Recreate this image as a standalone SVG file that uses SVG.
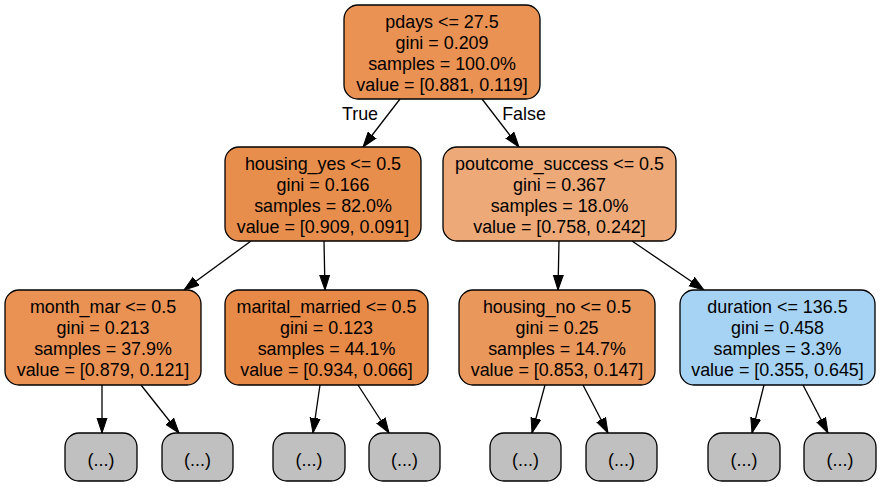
<svg xmlns="http://www.w3.org/2000/svg" width="882" height="487" viewBox="0 0 882 487">
<defs>
<marker id="arr" markerUnits="userSpaceOnUse" markerWidth="16" markerHeight="12" refX="15" refY="5" orient="auto" viewBox="0 0 16 10">
<path d="M0,0 L15,5 L0,10 Z" fill="#000" stroke="#000" stroke-width="1"/>
</marker>
<style>
.n{stroke:#000;stroke-width:1.3}
text{font-family:"Liberation Sans",Arial,Helvetica,sans-serif;font-size:17.9px;fill:#000;text-anchor:middle}
.e line{stroke:#000;stroke-width:1.3;marker-end:url(#arr)}
.leaf{fill:#c0c0c0}
</style>
</defs>
<rect width="882" height="487" fill="#fff"/>
<g class="e" id="connectors">
<line x1="400" y1="99" x2="363" y2="147"/>
<line x1="482" y1="99" x2="519" y2="147"/>
<line x1="251" y1="241" x2="184" y2="290"/>
<line x1="324" y1="241" x2="325" y2="290"/>
<line x1="559" y1="241" x2="558" y2="290"/>
<line x1="632" y1="241" x2="704" y2="290"/>
<line x1="102" y1="385" x2="102" y2="433"/>
<line x1="141" y1="385" x2="179" y2="433"/>
<line x1="320" y1="385" x2="313" y2="433"/>
<line x1="358" y1="385" x2="389" y2="433"/>
<line x1="545" y1="385" x2="532" y2="433"/>
<line x1="583" y1="385" x2="608" y2="433"/>
<line x1="764" y1="385" x2="752" y2="433"/>
<line x1="803" y1="385" x2="828" y2="433"/>
<text x="360" y="120">True</text>
<text x="524" y="120">False</text>
</g>
<g id="n0">
<rect class="n" x="344" y="5" width="196" height="94" rx="14" fill="#e99254"/>
<text x="442" y="28">pdays &lt;= 27.5</text>
<text x="442" y="49">gini = 0.209</text>
<text x="442" y="70">samples = 100.0%</text>
<text x="442" y="91">value = [0.881, 0.119]</text>
</g>
<g id="n1">
<rect class="n" x="225" y="147" width="196" height="94" rx="14" fill="#e88e4d"/>
<text x="323" y="170">housing_yes &lt;= 0.5</text>
<text x="323" y="191">gini = 0.166</text>
<text x="323" y="212">samples = 82.0%</text>
<text x="323" y="233">value = [0.909, 0.091]</text>
</g>
<g id="n2">
<rect class="n" x="443" y="147" width="233" height="94" rx="14" fill="#eda978"/>
<text x="559.5" y="170">poutcome_success &lt;= 0.5</text>
<text x="559.5" y="191">gini = 0.367</text>
<text x="559.5" y="212">samples = 18.0%</text>
<text x="559.5" y="233">value = [0.758, 0.242]</text>
</g>
<g id="n3">
<rect class="n" x="5" y="290" width="196" height="95" rx="14" fill="#e99254"/>
<text x="103" y="313">month_mar &lt;= 0.5</text>
<text x="103" y="334">gini = 0.213</text>
<text x="103" y="355">samples = 37.9%</text>
<text x="103" y="376">value = [0.879, 0.121]</text>
</g>
<g id="n4">
<rect class="n" x="225" y="290" width="203" height="95" rx="14" fill="#e78a47"/>
<text x="326.5" y="313">marital_married &lt;= 0.5</text>
<text x="326.5" y="334">gini = 0.123</text>
<text x="326.5" y="355">samples = 44.1%</text>
<text x="326.5" y="376">value = [0.934, 0.066]</text>
</g>
<g id="n5">
<rect class="n" x="459" y="290" width="196" height="95" rx="14" fill="#e9975b"/>
<text x="557" y="313">housing_no &lt;= 0.5</text>
<text x="557" y="334">gini = 0.25</text>
<text x="557" y="355">samples = 14.7%</text>
<text x="557" y="376">value = [0.853, 0.147]</text>
</g>
<g id="n6">
<rect class="n" x="680" y="290" width="195" height="95" rx="14" fill="#a6d3f3"/>
<text x="777.5" y="313">duration &lt;= 136.5</text>
<text x="777.5" y="334">gini = 0.458</text>
<text x="777.5" y="355">samples = 3.3%</text>
<text x="777.5" y="376">value = [0.355, 0.645]</text>
</g>
<g id="l1"><rect class="n leaf" x="65" y="433" width="72" height="48" rx="14"/><text x="101" y="466">(...)</text></g>
<g id="l2"><rect class="n leaf" x="162" y="433" width="71" height="48" rx="14"/><text x="197.5" y="466">(...)</text></g>
<g id="l3"><rect class="n leaf" x="273" y="433" width="72" height="48" rx="14"/><text x="309" y="466">(...)</text></g>
<g id="l4"><rect class="n leaf" x="369" y="433" width="71" height="48" rx="14"/><text x="404.5" y="466">(...)</text></g>
<g id="l5"><rect class="n leaf" x="490" y="433" width="71" height="48" rx="14"/><text x="525.5" y="466">(...)</text></g>
<g id="l6"><rect class="n leaf" x="586" y="433" width="71" height="48" rx="14"/><text x="621.5" y="466">(...)</text></g>
<g id="l7"><rect class="n leaf" x="708" y="433" width="72" height="48" rx="14"/><text x="744" y="466">(...)</text></g>
<g id="l8"><rect class="n leaf" x="804" y="433" width="72" height="48" rx="14"/><text x="840" y="466">(...)</text></g>
</svg>
